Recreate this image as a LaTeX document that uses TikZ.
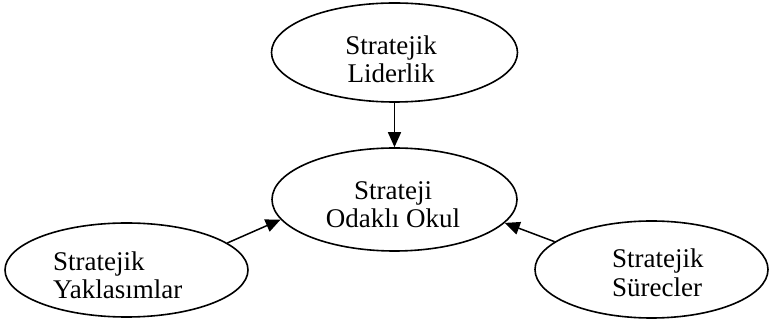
\documentclass[tikz,border=0pt]{standalone}
\usepackage{fontspec}
\setmainfont{Liberation Serif}
\usetikzlibrary{shapes.geometric,arrows.meta}
\begin{document}
\begin{tikzpicture}[x=1pt,y=-1pt,
  oval/.style={draw,ellipse,line width=1.6pt,inner sep=0pt},
  lbl/.style={inner sep=0pt,font=\fontsize{27}{28}\selectfont},
  conn/.style={line width=1.5pt,-{Triangle[length=15pt,width=13pt]}}]
\useasboundingbox (0,0) rectangle (769,320);
\node[oval,minimum width=246pt,minimum height=99pt] (lead) at (394.5,52.5) {};
\node[oval,minimum width=245pt,minimum height=103pt] (school) at (394.5,199.5) {};
\node[oval,minimum width=243pt,minimum height=94pt] (appr) at (126.5,270) {};
\node[oval,minimum width=233pt,minimum height=97pt] (proc) at (651.5,269.5) {};
% texts
\node[lbl,anchor=base] (t1a) at (391,55) {Stratejik};
\node[lbl,anchor=base] (t1b) at (391,83) {Liderlik};
\node[lbl,anchor=base] (t2a) at (393,200) {Strateji};
\node[lbl,anchor=base] (t2b) at (393,228) {Odaklı Okul};
\node[lbl,anchor=base west] (t3a) at (53,271) {Stratejik};
\node[lbl,anchor=base west] (t3b) at (53,299) {Yaklasımlar};
\node[lbl,anchor=base west] (t4a) at (612,268) {Stratejik};
\node[lbl,anchor=base west] (t4b) at (612,297) {Sürecler};
% connectors
\draw[conn] (lead.south) -- (school.north);
\draw[conn] (appr.15.3) -- (school.190.6);
\draw[conn] (proc.164.8) -- (school.348.7);
\end{tikzpicture}
\end{document}
